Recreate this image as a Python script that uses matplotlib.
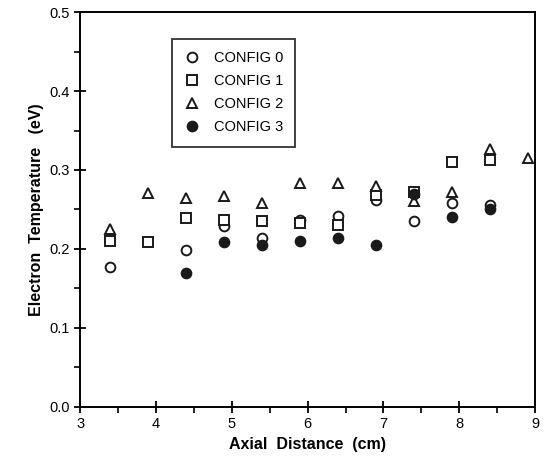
import numpy as np
import matplotlib.pyplot as plt
from matplotlib.ticker import MultipleLocator

plt.rcParams['font.family'] = ['Liberation Sans', 'DejaVu Sans']

# axial positions (cm)
x_pos = [3.4, 3.9, 4.4, 4.9, 5.4, 5.9, 6.4, 6.9, 7.4, 7.9, 8.4, 8.9]

# electron temperature (eV), None where no point
config0 = [0.177, None, 0.199, 0.229, 0.214, 0.237, 0.242, 0.262, 0.235, 0.258, 0.256, None]
config1 = [0.210, 0.209, 0.239, 0.237, 0.236, 0.233, 0.230, 0.268, 0.272, 0.310, 0.313, None]
config2 = [0.225, 0.271, 0.264, 0.267, 0.258, 0.283, 0.283, 0.280, 0.261, 0.272, 0.327, 0.315]
config3 = [None, None, 0.170, 0.209, 0.205, 0.210, 0.214, 0.205, 0.270, 0.241, 0.250, None]

labels = ['CONFIG 0', 'CONFIG 1', 'CONFIG 2', 'CONFIG 3']
markers = ['o', 's', '^', 'o']
filled = [False, False, False, True]


def pts(vals):
    x = [xp for xp, v in zip(x_pos, vals) if v is not None]
    y = [v for v in vals if v is not None]
    return x, y


fig = plt.figure(figsize=(5.45, 4.66), dpi=100)
ax = fig.add_axes([0.147, 0.127, 0.835, 0.847])

for vals, lab, m, f in zip([config0, config1, config2, config3], labels, markers, filled):
    x, y = pts(vals)
    ax.plot(x, y, linestyle='none', marker=m, markersize=7 if m != 's' else 6.5,
            markerfacecolor='#1a1a1a' if f else 'white',
            markeredgecolor='#1a1a1a', markeredgewidth=1.4, label=lab)

ax.set_xlim(3, 9)
ax.set_ylim(0, 0.5)
ax.xaxis.set_major_locator(MultipleLocator(1))
ax.xaxis.set_minor_locator(MultipleLocator(0.5))
ax.yaxis.set_major_locator(MultipleLocator(0.1))
ax.yaxis.set_minor_locator(MultipleLocator(0.05))
ax.yaxis.set_major_formatter(plt.FuncFormatter(lambda v, p: '%.1f' % v))
ax.tick_params(which='major', direction='inout', length=8, width=1.3, labelsize=10.5)
ax.tick_params(which='minor', direction='out', length=4, width=1.2)
for s in ax.spines.values():
    s.set_linewidth(1.4)

ax.set_xlabel('Axial  Distance  (cm)', fontsize=11.5, fontweight='bold')
ax.set_ylabel('Electron  Temperature   (eV)', fontsize=11.5, fontweight='bold')

leg = ax.legend(loc='upper left', bbox_to_anchor=(0.202, 0.932), frameon=True, fancybox=False,
                edgecolor='black', fontsize=10.5, handletextpad=1.0, borderpad=0.85,
                labelspacing=0.62, handlelength=1.0, borderaxespad=0)
leg.get_frame().set_linewidth(1.3)

fig.savefig('out.png', dpi=100)
